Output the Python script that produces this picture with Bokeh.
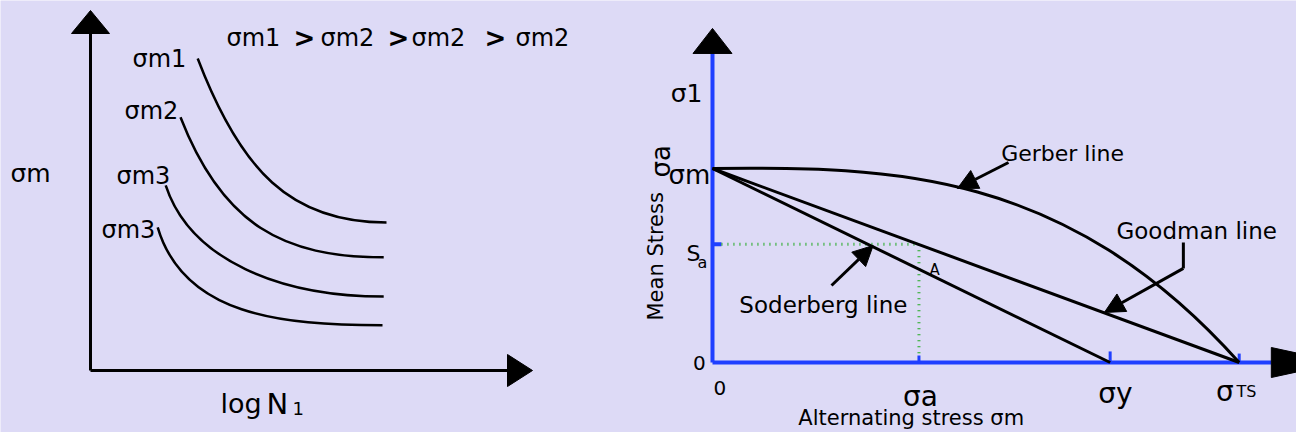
from math import pi
from bokeh.plotting import figure
from bokeh.models import Range1d, Arrow, NormalHead
from bokeh.core.properties import value
from bokeh.embed import file_html
from bokeh.resources import INLINE

BG = "#DDDAF6"
FONT = "DejaVu Sans"
BLUE = "#1F3FFF"
GREEN = "#22AA22"

# ---------------- left panel : S-N curves ----------------
sn_labels = ["σm1", "σm2", "σm3", "σm3"]
sn_label_x = [1.05, 0.85, 0.65, 0.275]
sn_label_y = [7.80, 6.50, 4.875, 3.525]
sn_x0 = [2.68, 2.25, 1.88, 1.68]
sn_y0 = [7.80, 6.33, 4.63, 3.58]
sn_cx0 = [3.75, 3.30, 2.50, 2.33]
sn_cy0 = [5.00, 3.63, 2.75, 1.38]
sn_cx1 = [5.00, 4.83, 4.75, 4.75]
sn_cy1 = [3.70, 2.83, 1.85, 1.13]
sn_x1 = [7.40, 7.33, 7.33, 7.30]
sn_y1 = [3.70, 2.83, 1.85, 1.13]

header_terms = ["σm1", "σm2", "σm2", "σm2"]
header_terms_x = [3.40, 5.75, 8.025, 10.625]
header_gt_x = [5.075, 7.425, 9.85]
header_y = 8.325

left_x_tip = 11.05
left_y_tip = 9.0

# ---------------- right panel : Gerber / Goodman / Soderberg ----------------
sigma_ts = 10.0
sigma_y = 7.55
sigma_a = 3.92
sigma_m = 10.0
s_a = 6.1
gerber_c0 = (3.38, 10.10)
gerber_c1 = (6.70, 10.00)
right_x_end = 10.61
right_x_tip = 11.92
right_y_end = 15.93
right_y_tip = 17.22

tick_names = ["σa", "σy"]
tick_pos = [sigma_a, sigma_y]
tick_len = [0.36, 0.57]

# ================= figure =================
p = figure(width=1296, height=432,
           x_range=Range1d(-2.25, 30.15), y_range=Range1d(-1.55, 9.25),
           output_backend="svg", toolbar_location=None, min_border=0,
           x_axis_location=None, y_axis_location=None)
p.extra_x_ranges = {"r": Range1d(-13.518, 11.088)}
p.extra_y_ranges = {"r": Range1d(-3.608, 18.660)}
p.grid.visible = False
p.background_fill_color = BG
p.border_fill_color = BG
p.outline_line_color = None

R = dict(x_range_name="r", y_range_name="r")

# ---- left panel ----
lx_head_len, lx_half = 0.625, 0.40
ly_head_len, ly_half = 0.575, 0.475
p.segment(x0=[0, 0], y0=[0, 0], x1=[left_x_tip - lx_head_len, 0], y1=[0, left_y_tip - ly_head_len],
          line_color="black", line_width=3)
p.patches(xs=[[left_x_tip, left_x_tip - lx_head_len, left_x_tip - lx_head_len],
              [0, -ly_half, ly_half]],
          ys=[[0, lx_half, -lx_half],
              [left_y_tip, left_y_tip - ly_head_len, left_y_tip - ly_head_len]],
          fill_color="black", line_color="black")

p.bezier(x0=sn_x0, y0=sn_y0, x1=sn_x1, y1=sn_y1, cx0=sn_cx0, cy0=sn_cy0, cx1=sn_cx1, cy1=sn_cy1,
         line_color="black", line_width=2.5)


def txt(x, y, s, size, align="left", angle=0.0, style="normal", rng=None):
    kw = rng if rng else {}
    p.text(x=list(x), y=list(y), text=list(s), text_font=value(FONT), text_font_size=size, angle=angle,
           text_align=align, text_baseline="alphabetic", text_color="black", text_font_style=style, **kw)


txt(sn_label_x, sn_label_y, sn_labels, "24px")
txt(header_terms_x, [header_y] * 4, header_terms, "24px")
txt(header_gt_x, [header_y] * 3, [">"] * 3, "26px", style="bold")
txt([-2.0], [4.925], ["σm"], "25px")
txt([3.25], [-0.825], ["log"], "27px")
txt([4.40], [-0.825], ["N"], "29px")
txt([5.05], [-0.95], ["1"], "18px")

# ---- right panel ----
p.segment(x0=[0, 0], y0=[0, 0], x1=[right_x_end, 0], y1=[0, right_y_end], line_color=BLUE, line_width=4, **R)
p.patches(xs=[[right_x_tip, right_x_end, right_x_end], [0, -0.37, 0.37]],
          ys=[[0, 0.773, -0.773], [right_y_tip, right_y_end, right_y_end]],
          fill_color="black", line_color="black", **R)

p.segment(x0=tick_pos + [sigma_ts], y0=[0, 0, 0], x1=tick_pos + [sigma_ts], y1=tick_len + [0.46],
          line_color=BLUE, line_width=3, **R)
p.segment(x0=[0], y0=[s_a], x1=[0.17], y1=[s_a], line_color=BLUE, line_width=4, **R)

p.segment(x0=[0.17, sigma_a], y0=[s_a, s_a], x1=[sigma_a, sigma_a], y1=[s_a, 0.36],
          line_color=GREEN, line_width=3, line_dash="1 5", **R)

p.bezier(x0=[0], y0=[sigma_m], x1=[sigma_ts], y1=[0], cx0=[gerber_c0[0]], cy0=[gerber_c0[1]],
         cx1=[gerber_c1[0]], cy1=[gerber_c1[1]], line_color="black", line_width=3, **R)
p.segment(x0=[0, 0], y0=[sigma_m, sigma_m], x1=[sigma_ts, sigma_y], y1=[0, 0],
          line_color="black", line_width=3, **R)

head = dict(size=20, fill_color="black", line_color="black")
p.add_layout(Arrow(end=NormalHead(**head), x_start=5.62, y_start=10.31, x_end=4.65, y_end=8.97,
                   line_color="black", line_width=3, **R))
p.add_layout(Arrow(end=NormalHead(**head), x_start=2.26, y_start=3.97, x_end=3.05, y_end=6.03,
                   line_color="black", line_width=3, **R))
p.line(x=[8.94, 8.94], y=[6.19, 4.85], line_color="black", line_width=3, **R)
p.add_layout(Arrow(end=NormalHead(**head), x_start=8.94, y_start=4.85, x_end=7.44, y_end=2.58,
                   line_color="black", line_width=3, **R))

txt([5.48], [10.77], ["Gerber line"], "22px", rng=R)
txt([7.67], [6.80], ["Goodman line"], "23px", rng=R)
txt([0.51], [2.94], ["Soderberg line"], "23px", rng=R)
txt([4.12], [4.79], ["A"], "15px", rng=R)
txt([-0.19], [13.87], ["σ1"], "25px", "right", rng=R)
txt([-0.04], [9.64], ["σm"], "26px", "right", rng=R)
txt([-0.23], [5.62], ["S"], "22px", "right", rng=R)
txt([-0.285], [5.15], ["a"], "16px", rng=R)
txt([-0.13], [-0.05], ["0"], "20px", "right", rng=R)
txt([0.02], [-1.29], ["0"], "20px", rng=R)
txt([tick_pos[0] + 0.03], [-1.75], [tick_names[0]], "28px", "center", rng=R)
txt([tick_pos[1] + 0.10], [-1.60], [tick_names[1]], "28px", "center", rng=R)
txt([9.56], [-1.49], ["σ"], "28px", rng=R)
txt([9.95], [-1.49], ["TS"], "16px", rng=R)
txt([1.63], [-2.86], ["Alternating stress σm"], "21px", rng=R)
txt([-1.08], [2.165], ["Mean Stress"], "21px", "left", pi / 2, rng=R)
txt([-0.987], [9.54], ["σa"], "26px", "left", pi / 2, rng=R)

open("out.html", "w").write(file_html(p, INLINE))
